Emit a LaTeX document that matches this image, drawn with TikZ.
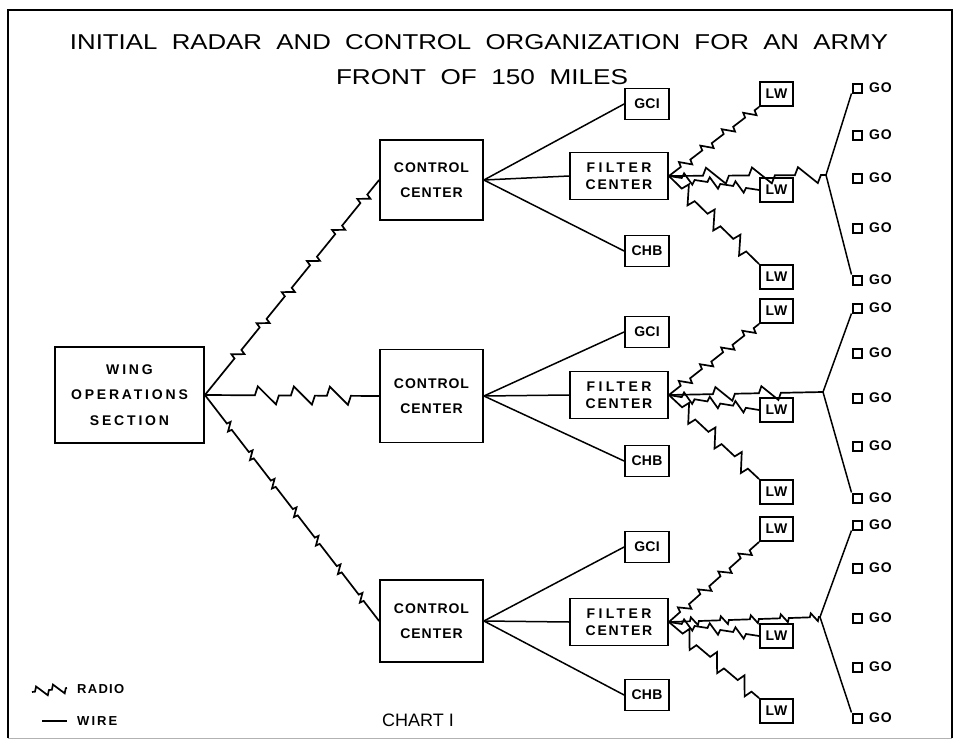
\documentclass[tikz,border=0pt]{standalone}
\usepackage{fontspec}
\usepackage{graphicx}
\setmainfont{Liberation Sans}
\usetikzlibrary{decorations}
\pgfkeys{/pgf/decoration/.cd, bolt width/.store in=\radioboltw, bolt width=10pt}
\pgfdeclaredecoration{radio}{gap}{%
  \state{gap}[width=\pgfdecorationsegmentlength-\radioboltw, next state=bolt]{%
    \pgfpathlineto{\pgfpoint{\pgfdecorationsegmentlength-\radioboltw}{0pt}}%
  }%
  \state{bolt}[width=\radioboltw, next state=gap]{%
    \pgfpathlineto{\pgfpoint{0.12*\radioboltw}{\pgfdecorationsegmentamplitude}}%
    \pgfpathlineto{\pgfpoint{0.88*\radioboltw}{-\pgfdecorationsegmentamplitude}}%
    \pgfpathlineto{\pgfpoint{\radioboltw}{0pt}}%
  }%
  \state{final}{\pgfpathlineto{\pgfpointdecoratedpathlast}}%
}
\newcommand\lblg[3]{\fontsize{#1}{#2}\selectfont\bfseries\addfontfeatures{LetterSpace=#3}}
\begin{document}
\begin{tikzpicture}[x=1pt,y=-1pt,
  box/.style={draw, line width=1.8pt, inner sep=0pt, align=center},
  ccbox/.style={box, minimum width=103pt, font=\lblg{14}{25}{7}},
  fcbox/.style={box, minimum width=98pt, minimum height=47pt, font=\lblg{14}{17}{13}},
  smbox/.style={box, minimum width=44pt, minimum height=31pt, font=\lblg{14}{15}{2}},
  lwbox/.style={box, minimum width=33pt, minimum height=24pt, font=\lblg{14}{15}{5}},
  gosq/.style={draw, line width=2pt, minimum size=9pt, inner sep=0pt},
  gotext/.style={anchor=west, inner sep=0pt, font=\lblg{14}{15}{6}},
  wire/.style={line width=1.5pt},
  radiolink/.style={line width=1.7pt, line join=miter, decorate, decoration={radio,#1}}
]
\useasboundingbox (0,0) rectangle (956,744);
% frame
\draw[line width=1.8pt] (8,738) -- (8,10) -- (952,10) -- (952,738);
\draw[line width=1pt, black!30] (8,738) -- (952,738);

% title
\node[inner sep=0pt] (title1) at (479,42) {\resizebox{818pt}{15pt}{INITIAL~~RADAR~~AND~~CONTROL~~ORGANIZATION~~FOR~~AN~~ARMY}};
\node[inner sep=0pt] (title2) at (482,77) {\resizebox{292pt}{15pt}{FRONT~~OF~~150~~MILES}};

% wing
\node[box, minimum width=149pt, minimum height=96pt, font=\lblg{14}{25.5}{20}] (wing) at (129.5,395) {WING\\OPERATIONS\\SECTION};

% control centers
\node[ccbox, minimum height=80pt] (cc1) at (431.5,180) {CONTROL\\CENTER};
\node[ccbox, minimum height=93pt] (cc2) at (431.5,396) {CONTROL\\CENTER};
\node[ccbox, minimum height=82pt] (cc3) at (431.5,621) {CONTROL\\CENTER};

% GCI / FC / CHB
\node[smbox] (gci1) at (647,104) {GCI};
\node[smbox] (gci2) at (647,332) {GCI};
\node[smbox] (gci3) at (647,547) {GCI};
\node[fcbox] (fc1) at (619,176) {{\addfontfeatures{LetterSpace=24}FILTER}\\CENTER};
\node[fcbox] (fc2) at (619,395) {{\addfontfeatures{LetterSpace=24}FILTER}\\CENTER};
\node[fcbox] (fc3) at (619,622) {{\addfontfeatures{LetterSpace=24}FILTER}\\CENTER};
\node[smbox] (chb1) at (647,251) {CHB};
\node[smbox] (chb2) at (647,461) {CHB};
\node[smbox] (chb3) at (647,695) {CHB};

% LW
\foreach \n/\y in {1a/94,1b/190,1c/277,2a/311,2b/410,2c/492,3a/529,3b/636,3c/711}
  \node[lwbox] (lw\n) at (776.5,\y) {LW};

% GO
\foreach \n/\y in {1a/88,1b/135,1c/178,1d/228,1e/280,2a/308,2b/353,2c/398,2d/446,2e/498,3a/525,3b/568,3c/618,3d/667,3e/718}{
  \node[gosq] (go\n) at (857,\y) {};
  \node[gotext] (got\n) at (869,\y) {GO};
}

% junctions
\coordinate (j1) at (826,175);
\coordinate (j2) at (823,392);
\coordinate (j3) at (820,617);

% wing radio links
\draw[radiolink={segment length=40pt, amplitude=5pt, bolt width=11pt, pre=lineto, pre length=18pt}] (wing.east) -- (cc1.west);
\draw[radiolink={segment length=36pt, amplitude=9pt, bolt width=24pt, pre=lineto, pre length=38pt}] (wing.east) -- (cc2.west);
\draw[radiolink={segment length=36pt, amplitude=4pt, bolt width=8pt, pre=lineto, pre length=8pt}] (wing.east) -- (cc3.west);

% wires from control centers, radio links from filter centers
\foreach \g in {1,2,3}{
  \draw[wire] (cc\g.east) -- (gci\g.west);
  \draw[wire] (cc\g.east) -- (fc\g.west);
  \draw[wire] (cc\g.east) -- (chb\g.west);
  \draw[radiolink={segment length=27pt, amplitude=5pt, bolt width=12pt}] (fc\g.east) -- (lw\g a.south west);
  \draw[radiolink={segment length=26pt, amplitude=5pt, bolt width=13pt}] (fc\g.east) -- (lw\g b.west);
  \draw[radiolink={segment length=36pt, amplitude=8pt, bolt width=18pt}] (fc\g.east) -- (lw\g c.north west);
  \draw[wire] (j\g) -- (go\g a.south west);
  \draw[wire] (j\g) -- (go\g e.north west);
}
\draw[radiolink={segment length=46pt, amplitude=8pt, bolt width=26pt, pre=lineto, pre length=14pt}] (fc1.east) -- (j1);
\draw[radiolink={segment length=46pt, amplitude=7pt, bolt width=22pt, pre=lineto, pre length=20pt}] (fc2.east) -- (j2);
\draw[radiolink={segment length=30pt, amplitude=4pt, bolt width=9pt}] (fc3.east) -- (j3);

% legend
\coordinate (legr1) at (32,692);
\coordinate (legr2) at (67,688);
\draw[radiolink={segment length=17pt, amplitude=5pt, bolt width=14pt}] (legr1) -- (legr2);
\node[anchor=west, inner sep=0pt, font=\lblg{13}{14}{10}] (legradio) at (77,689) {RADIO};
\coordinate (legw1) at (42,721);
\coordinate (legw2) at (67,721);
\draw[wire] (legw1) -- (legw2);
\node[anchor=west, inner sep=0pt, font=\lblg{13}{14}{16}] (legwire) at (77,721) {WIRE};

\node[font=\fontsize{18}{20}\selectfont, inner sep=0pt] (chart) at (418,720) {CHART I};
\end{tikzpicture}
\end{document}
